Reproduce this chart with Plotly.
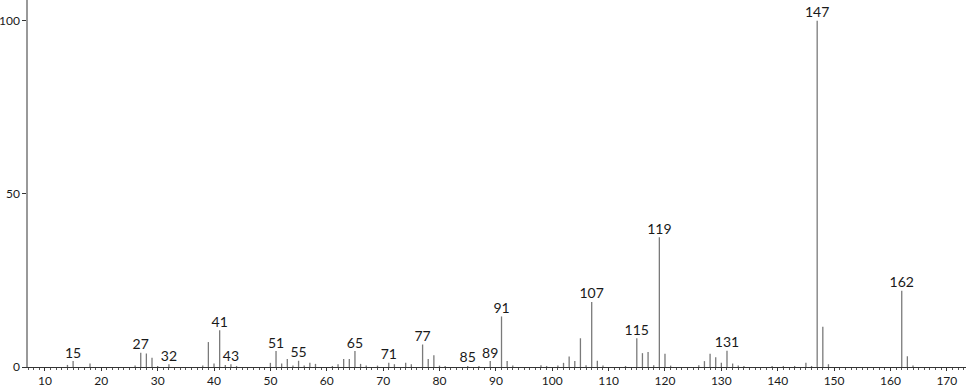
import plotly.graph_objects as go

mz = [14, 15, 18, 26, 27, 28, 29, 30, 32, 38, 39, 40, 41, 42, 43, 44,
      50, 51, 52, 53, 54, 55, 56, 57, 58, 61, 62, 63, 64, 65, 66, 67, 69,
      71, 72, 74, 75, 77, 78, 79, 80, 81, 85, 87, 89, 91, 92, 93,
      98, 99, 101, 102, 103, 104, 105, 106, 107, 108, 109, 113,
      115, 116, 117, 118, 119, 120, 121, 126, 127, 128, 129, 130, 131,
      132, 133, 134, 139, 141, 143, 145, 146, 147, 148, 149, 162, 163, 164]
intensity = [0.6, 1.7, 1.0, 0.4, 4.1, 3.9, 2.7, 0.3, 0.8, 0.4, 7.2, 1.0, 10.6, 0.6, 0.8, 0.3,
             1.2, 4.6, 1.0, 2.3, 0.4, 1.8, 0.4, 1.2, 0.9, 0.3, 0.8, 2.3, 2.3, 4.6, 0.9, 0.4, 0.4,
             1.2, 0.8, 1.2, 0.8, 6.5, 2.3, 3.4, 0.4, 0.3, 0.3, 0.3, 1.7, 14.6, 1.7, 0.4,
             0.5, 0.3, 0.4, 1.2, 3.0, 1.7, 8.3, 0.5, 18.8, 1.8, 0.4, 0.3,
             8.3, 4.0, 4.3, 0.5, 37.5, 3.8, 0.4, 0.5, 1.7, 3.8, 2.8, 1.2, 4.7,
             1.0, 0.4, 0.3, 0.3, 0.3, 0.3, 1.2, 0.3, 100.0, 11.6, 0.8, 22.0, 3.1, 0.4]
labeled_mz = [15, 27, 32, 41, 43, 51, 55, 65, 71, 77, 85, 89, 91, 107, 115, 119, 131, 147, 162]

lookup = dict(zip(mz, intensity))

xs, ys = [], []
for m, h in zip(mz, intensity):
    xs += [m, m, None]
    ys += [0, h, None]

fig = go.Figure()
fig.add_trace(go.Scatter(x=xs, y=ys, mode="lines",
                         line=dict(color="#7a7a7a", width=1.3),
                         hoverinfo="skip", showlegend=False))
fig.add_trace(go.Scatter(x=labeled_mz, y=[lookup[m] for m in labeled_mz],
                         mode="text", text=[str(m) for m in labeled_mz],
                         textposition="top center",
                         textfont=dict(family="Lato, DejaVu Sans, sans-serif", size=14, color="#1a1a1a"),
                         cliponaxis=False, hoverinfo="skip", showlegend=False))

fig.update_layout(
    width=966, height=389,
    margin=dict(l=28, r=0, t=0, b=22),
    paper_bgcolor="white", plot_bgcolor="white",
    font=dict(family="Lato, DejaVu Sans, sans-serif", size=12, color="#1a1a1a"),
    xaxis=dict(range=[7, 173.4], tick0=0, dtick=10, ticks="outside", ticklen=3,
               tickcolor="#333", showline=True, linecolor="#333", linewidth=1,
               showgrid=False, zeroline=False, automargin=False,
               tickfont=dict(size=12),
               minor=dict(dtick=1, ticks="outside", ticklen=2, tickcolor="#555")),
    yaxis=dict(range=[0, 106], tickvals=[0, 50, 100], ticks="outside", ticklen=4,
               tickcolor="#333", showline=True, linecolor="#999", linewidth=1.5,
               showgrid=False, zeroline=False, automargin=False,
               tickfont=dict(size=12)),
)

fig.write_html("out.html")
